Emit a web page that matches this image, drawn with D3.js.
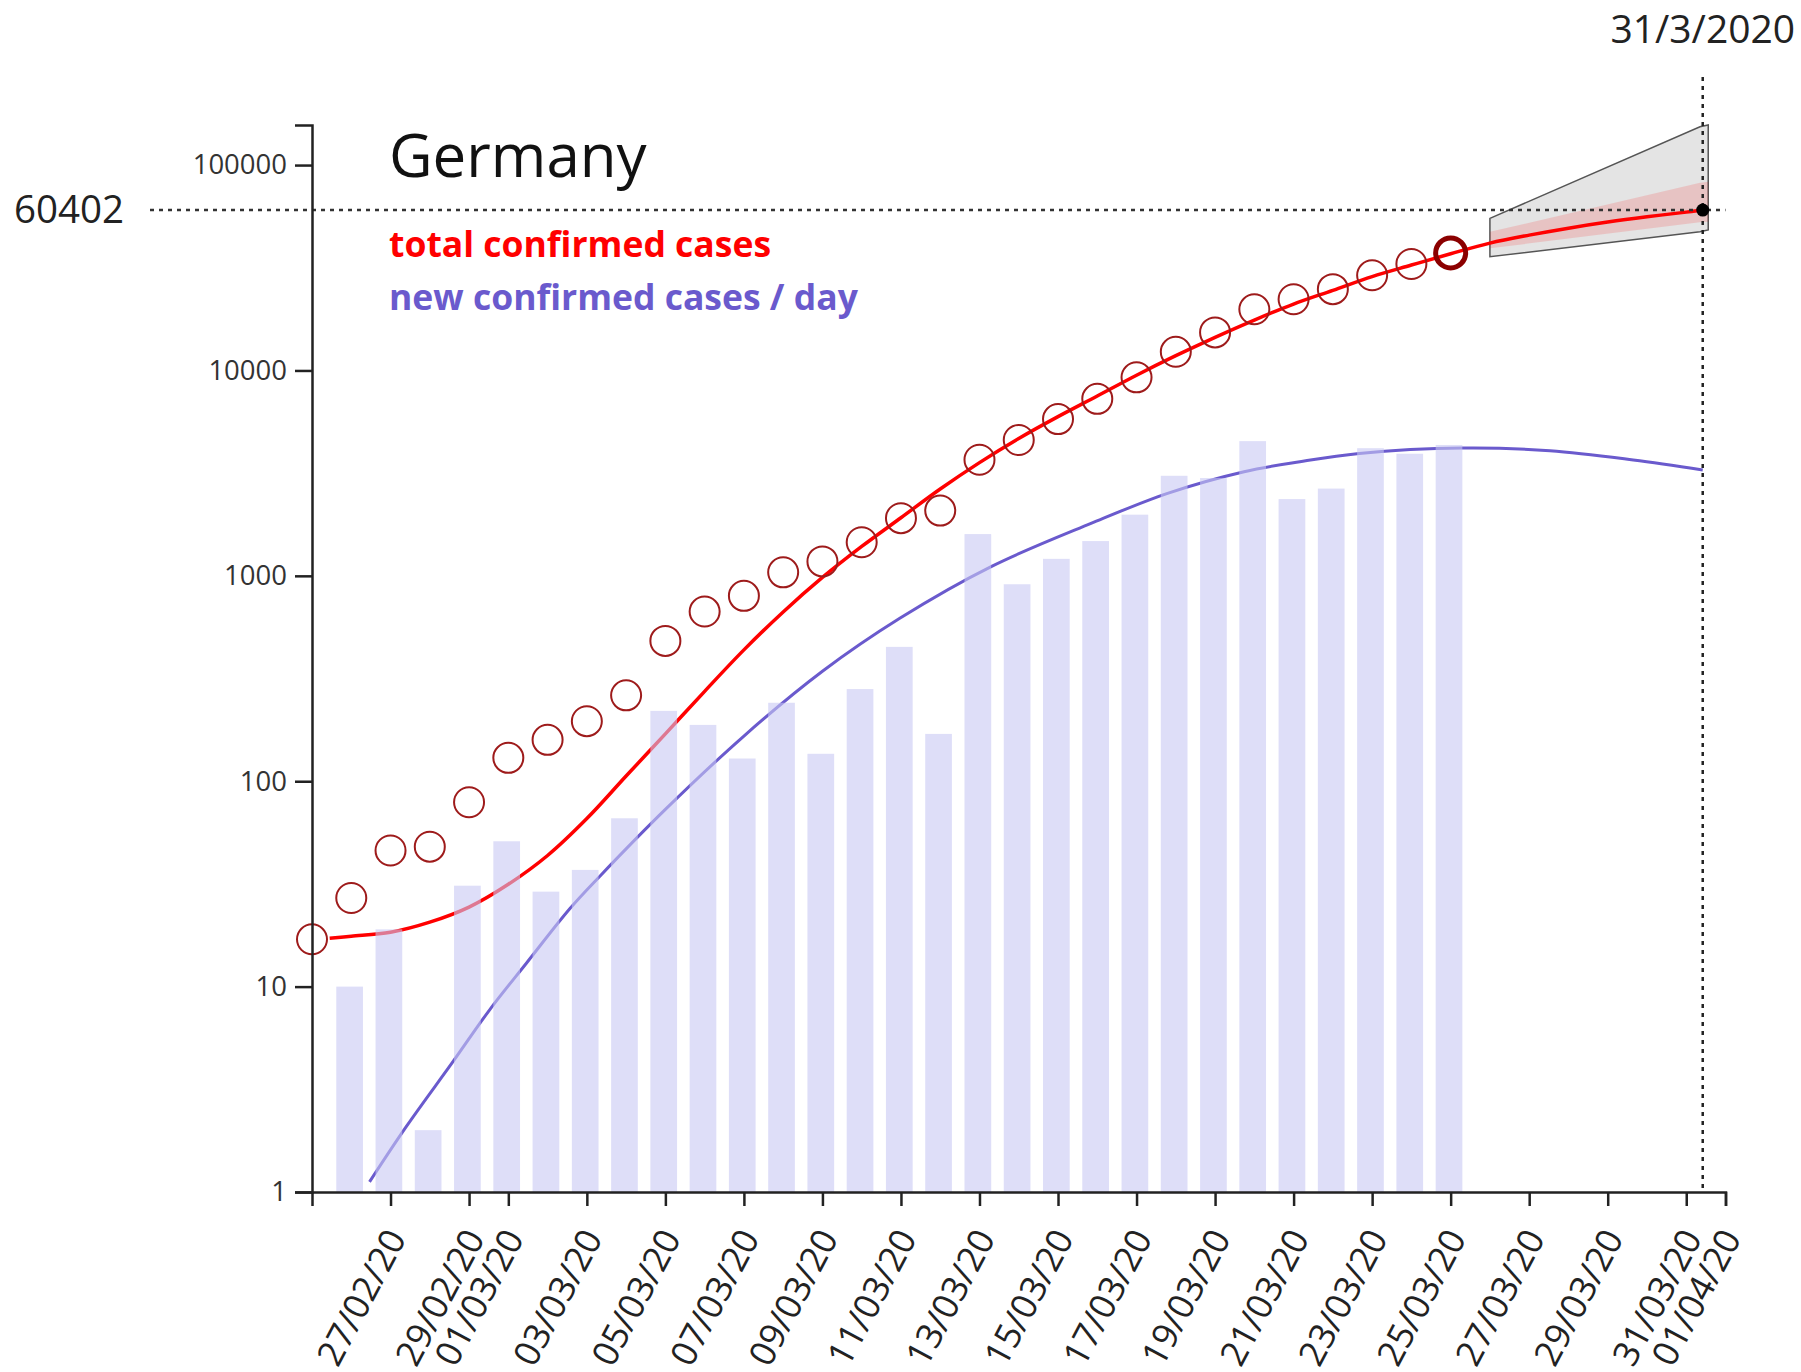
<!DOCTYPE html>
<html><head><meta charset="utf-8">
<script src="https://cdn.jsdelivr.net/npm/d3@7"></script>
<style>html,body{margin:0;padding:0;background:#fff;} svg{display:block;}</style>
</head><body>
<svg id="chart" width="1801" height="1372"></svg>
<script>
// ---------------- data ----------------
const country = "Germany";
const seriesNames = ["total confirmed cases", "new confirmed cases / day"];
const startDate = "2020-02-25";
const endDate = "2020-04-01";
// total confirmed cases, one per day from 25/02/20 to 25/03/20
const totalCases = [17, 27, 46, 48, 79, 130, 159, 196, 262, 482, 670, 799, 1040, 1176, 1457,
  1908, 2078, 3675, 4585, 5795, 7272, 9257, 12327, 15320, 19848, 22213, 24873, 29056, 32986, 37323];
// new confirmed cases per day, one per day from 26/02/20 to 25/03/20
const newCases = [10, 19, 2, 31, 51, 29, 37, 66, 220, 188, 129, 241, 136, 281, 451, 170,
  1597, 910, 1210, 1477, 1985, 3070, 2993, 4528, 2365, 2660, 4183, 3930, 4337];
// fitted curve of total cases (days after 25/02/20, value)
const fitTotalDays = [0.45, 1, 2, 3, 4, 5, 6, 7, 8, 9, 10, 11, 12, 13, 14, 15, 16, 17, 18, 19, 20,
  21, 22, 23, 24, 25, 26, 27, 28, 29, 30, 31, 32, 33, 34, 35, 35.42];
const fitTotal = [17.2, 17.6, 18.4, 20.6, 24.4, 31.5, 43.5, 65.8, 106, 170, 274, 436, 667, 982,
  1390, 1918, 2648, 3558, 4665, 5960, 7510, 9480, 11800, 14500, 17600, 21050, 24550, 28650,
  32600, 37000, 41700, 45600, 49300, 52800, 56000, 59000, 60402];
// fitted curve of new cases per day
const fitNewDays = [1.465, 2.4, 3.59, 4.52, 5.46, 6.57, 7.32, 9, 11, 13, 14.97, 17.31, 19.84,
  21.79, 23.74, 25.16, 26.67, 29.3, 31.53, 33.65, 35.42];
const fitNew = [1.12, 2.08, 4.31, 7.69, 13.0, 24.0, 34.3, 72.9, 166, 343, 621, 1112, 1800,
  2522, 3215, 3597, 3945, 4190, 4065, 3664, 3275];
// forecast bands
const bandDays = [30, 35.35, 35.56];
const bandLow = [35800, 47300, 48300];
const bandHigh = [55000, 153700, 156700];
const ciLow = [39300, 52700, 53000];
const ciHigh = [47300, 82000, 83000];
// forecast marker
const markerDay = 35.42;
const markerValue = 60402;
// ticks
const yTickValues = [1, 10, 100, 1000, 10000, 100000];
const xTickLabels = ["27/02/20", "29/02/20", "01/03/20", "03/03/20", "05/03/20", "07/03/20",
  "09/03/20", "11/03/20", "13/03/20", "15/03/20", "17/03/20", "19/03/20", "21/03/20",
  "23/03/20", "25/03/20", "27/03/20", "29/03/20", "31/03/20", "01/04/20"];

// ---------------- drawing ----------------
const FONT = "'Open Sans', 'Noto Sans', sans-serif";
const svg = d3.select("#chart");
svg.append("rect").attr("width", 1801).attr("height", 1372).attr("fill", "#fff");

const t0 = new Date(startDate + "T00:00:00Z");
const dayDate = d => new Date(t0.getTime() + d * 864e5);
const parseTick = d3.utcParse("%d/%m/%y");
const fmtTick = d3.utcFormat("%d/%m/%y");

const x = d3.scaleUtc()
  .domain([t0, new Date(endDate + "T00:00:00Z")])
  .range([312, 1725.5]);
const y = d3.scaleLog()
  .domain([1, d3.max(bandHigh)])
  .range([1192, 125]);

// forecast band (grey) and inner band (pink)
const band = bandDays.map((d, i) => ({d, lo: bandLow[i], hi: bandHigh[i]}));
const ci = bandDays.map((d, i) => ({d, lo: ciLow[i], hi: ciHigh[i]}));
const area = d3.area().x(p => x(dayDate(p.d))).y0(p => y(p.lo)).y1(p => y(p.hi));
svg.append("path").datum(band).attr("d", area)
  .attr("fill", "#e4e4e4").attr("stroke", "#555").attr("stroke-width", 1.5);
svg.append("path").datum(ci).attr("d", area)
  .attr("fill", "rgba(255,0,0,0.14)").attr("stroke", "none");

// fitted lines
const line = d3.line().x(p => x(dayDate(p[0]))).y(p => y(p[1])).curve(d3.curveCatmullRom.alpha(0.5));
svg.append("path").datum(fitTotalDays.map((d, i) => [d, fitTotal[i]]))
  .attr("d", line).attr("fill", "none").attr("stroke", "#ff0000").attr("stroke-width", 3.5);
svg.append("path").datum(fitNewDays.map((d, i) => [d, fitNew[i]]))
  .attr("d", line).attr("fill", "none").attr("stroke", "#6a5acd").attr("stroke-width", 3);

// bars (new cases / day), drawn over the lines
svg.append("g").selectAll("rect").data(newCases).join("rect")
  .attr("x", (v, i) => x(dayDate(i + 1)) - 15)
  .attr("width", 26.7)
  .attr("y", v => y(v))
  .attr("height", v => y(1) - y(v))
  .attr("fill", "rgb(200,200,243)")
  .attr("fill-opacity", 0.6);

// total cases circles
svg.append("g").selectAll("circle").data(totalCases).join("circle")
  .attr("cx", (v, i) => x(dayDate(i)))
  .attr("cy", v => y(v))
  .attr("r", 15)
  .attr("fill", "none")
  .attr("stroke", (v, i) => i === totalCases.length - 1 ? "#8b0000" : "#9e1b1b")
  .attr("stroke-width", (v, i) => i === totalCases.length - 1 ? 5 : 2);

// marker dotted lines
const mx = x(dayDate(markerDay)), my = y(markerValue);
svg.append("line").attr("x1", 150).attr("x2", x.range()[1]).attr("y1", my).attr("y2", my)
  .attr("stroke", "#333").attr("stroke-width", 2.5).attr("stroke-dasharray", "4,5");
svg.append("line").attr("x1", mx).attr("x2", mx).attr("y1", 77).attr("y2", y(1))
  .attr("stroke", "#222").attr("stroke-width", 2.5).attr("stroke-dasharray", "4,5");
svg.append("circle").attr("cx", mx).attr("cy", my).attr("r", 6.5).attr("fill", "#000");

svg.append("text").attr("x", 124).attr("y", my).attr("dy", "0.33em")
  .attr("text-anchor", "end").attr("font-family", FONT).attr("font-size", 38.5)
  .attr("fill", "#222").text(d3.format("d")(markerValue));
svg.append("text").attr("x", mx).attr("y", 43)
  .attr("text-anchor", "middle").attr("font-family", FONT).attr("font-size", 39)
  .attr("fill", "#222").text(d3.utcFormat("%-d/%-m/%Y")(dayDate(markerDay)));

// axes
const gx = svg.append("g").attr("transform", `translate(0,${y(1)})`)
  .call(d3.axisBottom(x).tickValues(xTickLabels.map(parseTick)).tickFormat(fmtTick)
    .tickSize(14).tickSizeOuter(14));
gx.attr("font-family", FONT).attr("font-size", 35.5);
gx.select(".domain").attr("stroke", "#222").attr("stroke-width", 2.5);
gx.selectAll(".tick line").attr("stroke", "#222").attr("stroke-width", 2.5);
gx.selectAll(".tick text").attr("y", 0).attr("dy", 0).attr("text-anchor", "end")
  .attr("transform", "translate(16,46) rotate(-62)").attr("fill", "#222");

const gy = svg.append("g").attr("transform", `translate(${x.range()[0]},0)`)
  .call(d3.axisLeft(y).tickValues(yTickValues).tickFormat(d3.format("d"))
    .tickSize(17).tickSizeOuter(17).tickPadding(8));
gy.attr("font-family", FONT).attr("font-size", 27.5);
gy.select(".domain").attr("stroke", "#222").attr("stroke-width", 2.5);
gy.selectAll(".tick line").attr("stroke", "#222").attr("stroke-width", 2.5);
gy.selectAll(".tick text").attr("fill", "#333");

// title and legend
svg.append("text").attr("x", 389).attr("y", 177).attr("font-family", FONT)
  .attr("font-size", 60).attr("fill", "#111").text(country);
svg.append("text").attr("x", 389).attr("y", 257).attr("font-family", FONT)
  .attr("font-size", 35.5).attr("font-weight", "bold").attr("fill", "#ff0000").text(seriesNames[0]);
svg.append("text").attr("x", 389).attr("y", 310).attr("font-family", FONT)
  .attr("font-size", 35.5).attr("font-weight", "bold").attr("fill", "#6a5acd").text(seriesNames[1]);
</script>
</body></html>
